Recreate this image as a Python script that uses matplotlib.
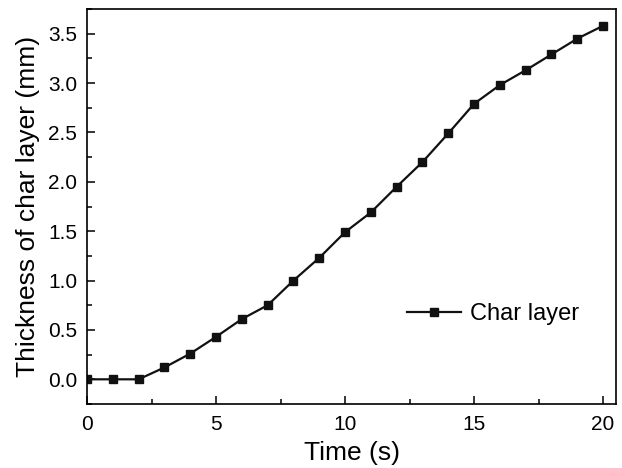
import matplotlib
matplotlib.use("Agg")
import matplotlib.pyplot as plt
from matplotlib.ticker import MultipleLocator

plt.rcParams['font.family'] = ['Liberation Sans', 'DejaVu Sans']

time_s = [0, 1, 2, 3, 4, 5, 6, 7, 8, 9, 10, 11, 12, 13, 14, 15, 16, 17, 18, 19, 20]
thickness = [0.0, 0.0, 0.0, 0.12, 0.26, 0.43, 0.61, 0.75, 1.00, 1.23, 1.49,
             1.69, 1.95, 2.20, 2.49, 2.79, 2.98, 3.13, 3.29, 3.45, 3.58]

fig = plt.figure(figsize=(6.22, 4.68), dpi=100)
ax = fig.add_axes([87 / 622, 1 - 404 / 468, (616 - 87) / 622, (404 - 9) / 468])

ax.plot(time_s, thickness, color='#111111', lw=1.6, marker='s', ms=6,
        label='Char layer')

ax.set_xlim(0, 20.5)
ax.set_ylim(-0.25, 3.75)
ax.xaxis.set_major_locator(MultipleLocator(5))
ax.xaxis.set_minor_locator(MultipleLocator(2.5))
ax.yaxis.set_major_locator(MultipleLocator(0.5))
ax.yaxis.set_minor_locator(MultipleLocator(0.25))
ax.tick_params(which='both', direction='in', labelsize=15, width=1.1)
ax.tick_params(which='major', length=6)
ax.tick_params(axis='x', which='major', pad=8)
ax.tick_params(axis='y', which='major', pad=7)
ax.tick_params(which='minor', length=3.5)
for s in ax.spines.values():
    s.set_linewidth(1.2)

ax.set_xlabel('Time (s)', fontsize=19, labelpad=5)
ax.set_ylabel('Thickness of char layer (mm)', fontsize=19, labelpad=6)

ax.legend(loc='center left', bbox_to_anchor=(0.565, 0.228), frameon=False,
          fontsize=17, handlelength=2.3, handletextpad=0.35)

fig.savefig('out.png', dpi=100)
